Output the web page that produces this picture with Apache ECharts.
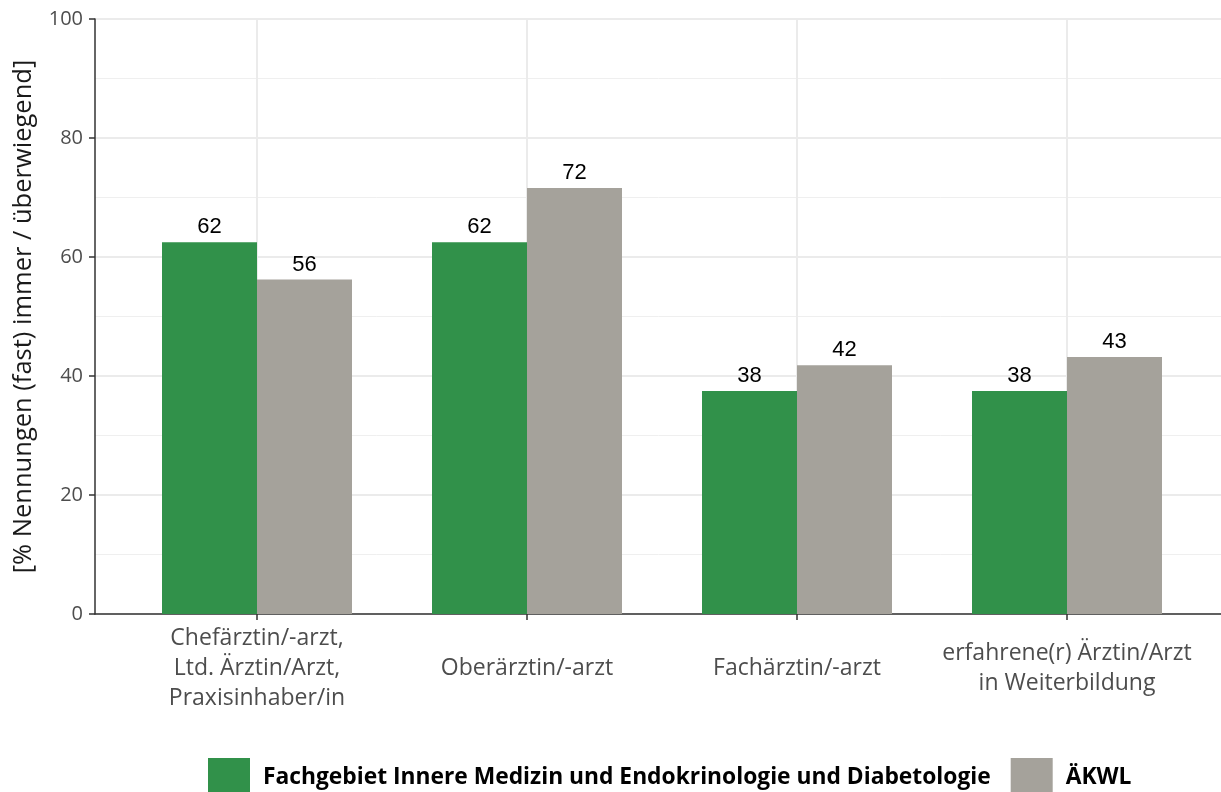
<!DOCTYPE html>
<html>
<head>
<meta charset="utf-8">
<script src="https://cdn.jsdelivr.net/npm/echarts@6/dist/echarts.min.js"></script>
<style>
  html, body { margin: 0; padding: 0; background: #fff; }
  #chart { width: 1221px; height: 792px; }
</style>
</head>
<body>
<div id="chart"></div>
<script>
// data
var categories = [
  "Chefärztin/-arzt,\nLtd. Ärztin/Arzt,\nPraxisinhaber/in",
  "Oberärztin/-arzt",
  "Fachärztin/-arzt",
  "erfahrene(r) Ärztin/Arzt\nin Weiterbildung"
];
var positions = [1, 2, 3, 4];
var seriesNames = ["Fachgebiet Innere Medizin und Endokrinologie und Diabetologie", "ÄKWL"];
var fachValues = [62.5, 62.5, 37.5, 37.5];
var aekwlValues = [56.2, 71.6, 41.8, 43.2];
var yTicks = [0, 20, 40, 60, 80, 100];

// R-style rounding (half to even) for the value labels
function roundHalfEven(v) {
  var r = Math.round(v);
  if (Math.abs(v % 1) === 0.5 && r % 2 !== 0) r -= 1;
  return r;
}

var myChart = echarts.init(document.getElementById("chart"));

var option = {
  backgroundColor: "#fff",
  animation: false,
  grid: {
    left: 95,
    width: 1134,
    top: 19,
    bottom: 178,
    outerBoundsMode: "none",
    containLabel: false
  },
  legend: {
    top: 753,
    left: 203,
    itemWidth: 42,
    itemHeight: 40,
    itemGap: 20,
    icon: "rect",
    textStyle: {
      fontFamily: "Open Sans",
      fontWeight: "bold",
      fontSize: 22.8,
      color: "#000",
      padding: [0, 0, 0, 8]
    },
    data: seriesNames
  },
  xAxis: {
    type: "value",
    min: 0.4,
    max: 4.6,
    axisLine: { show: true, lineStyle: { color: "#333", width: 1.5 } },
    axisTick: {
      show: true,
      customValues: positions,
      length: 6,
      lineStyle: { color: "#333", width: 1.5 }
    },
    axisLabel: {
      customValues: positions,
      formatter: function (v) {
        return categories[Math.round(v) - 1] || "";
      },
      fontFamily: "Open Sans",
      fontSize: 23,
      lineHeight: 30,
      color: "#4D4D4D",
      verticalAlign: "middle",
      margin: 54
    },
    splitLine: { show: true, lineStyle: { color: "#EBEBEB", width: 2 } }
  },
  yAxis: {
    type: "value",
    min: yTicks[0],
    max: yTicks[yTicks.length - 1],
    interval: 20,
    name: "[% Nennungen (fast) immer / überwiegend]",
    nameLocation: "middle",
    nameGap: 58,
    nameTextStyle: {
      fontFamily: "Open Sans",
      fontSize: 25.5,
      color: "#1a1a1a"
    },
    axisLine: { show: true, lineStyle: { color: "#333", width: 1.5 } },
    axisTick: { show: true, length: 6, lineStyle: { color: "#333", width: 1.5 } },
    axisLabel: {
      fontFamily: "Open Sans",
      fontSize: 20,
      color: "#4D4D4D",
      margin: 12
    },
    splitLine: { show: true, lineStyle: { color: "#EBEBEB", width: 2 } },
    minorTick: { show: false, splitNumber: 2 },
    minorSplitLine: { show: true, lineStyle: { color: "#EFEFEF", width: 1 } }
  },
  series: [
    {
      name: seriesNames[0],
      type: "bar",
      barWidth: 95,
      barGap: "0%",
      itemStyle: { color: "#31914A" },
      label: {
        show: true,
        position: "top",
        distance: 4,
        fontFamily: "Liberation Sans",
        fontSize: 22,
        color: "#000",
        formatter: function (p) { return roundHalfEven(p.value[1]); }
      },
      data: positions.map(function (x, i) { return [x, fachValues[i]]; })
    },
    {
      name: seriesNames[1],
      type: "bar",
      barWidth: 95,
      barGap: "0%",
      itemStyle: { color: "#A5A29B" },
      label: {
        show: true,
        position: "top",
        distance: 4,
        fontFamily: "Liberation Sans",
        fontSize: 22,
        color: "#000",
        formatter: function (p) { return roundHalfEven(p.value[1]); }
      },
      data: positions.map(function (x, i) { return [x, aekwlValues[i]]; })
    }
  ]
};

myChart.setOption(option);
</script>
</body>
</html>
